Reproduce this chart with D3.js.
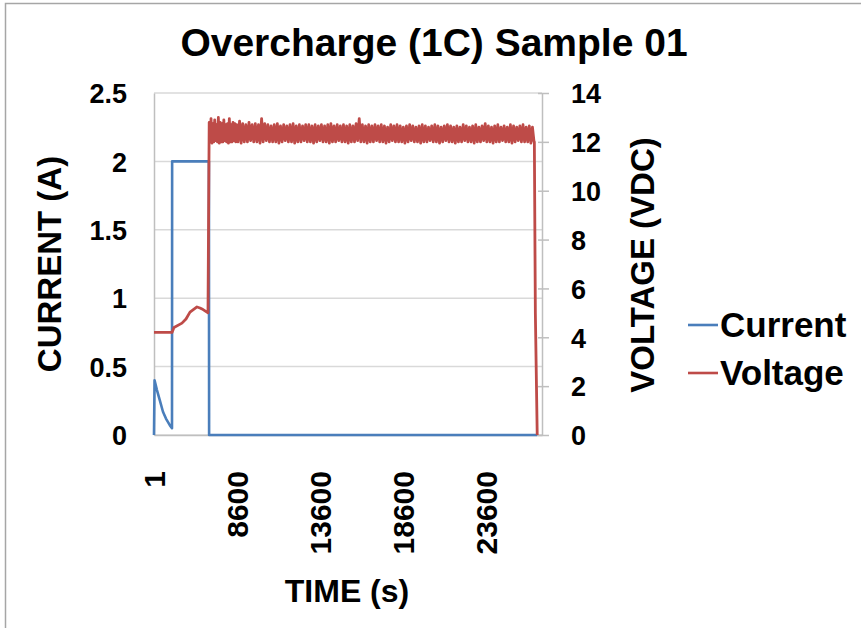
<!DOCTYPE html>
<html><head><meta charset="utf-8">
<script src="https://cdn.jsdelivr.net/npm/d3@7"></script>
<style>
body{margin:0;background:#fff}
svg{display:block}
text{font-family:"Liberation Sans",Arial,sans-serif;font-weight:bold;fill:#000}
</style>
</head><body><svg id="c" width="861" height="628"></svg>
<script>
// ---------------- data ----------------
const chartTitle = "Overcharge (1C) Sample 01";
const xTitle = "TIME (s)";
const yLeftTitle = "CURRENT (A)";
const yRightTitle = "VOLTAGE (VDC)";
const seriesNames = ["Current", "Voltage"];
const xTickValues = [1, 8600, 13600, 18600, 23600];
const currentTicks = [0, 0.5, 1, 1.5, 2, 2.5];
const voltageTicks = [0, 2, 4, 6, 8, 10, 12, 14];

const currentTime   = [1, 60, 300, 620, 930, 1240, 1650, 1866, 1880, 5690, 5710, 26672];
const currentValues = [0, 0.40, 0.33, 0.25, 0.17, 0.12, 0.07, 0.05, 2.0, 2.0, 0, 0];

const voltageStartTime   = [1, 1866, 2073, 2900, 3316, 3730, 4455, 4766, 4973, 5595];
const voltageStartValues = [4.2, 4.2, 4.40, 4.58, 4.75, 5.03, 5.24, 5.20, 5.16, 5.0];

// plateau: logger oscillates between a high and a low reading (pairs)
const plateauStart = 5720, plateauEnd = 26480;
const plateauHigh = [
 12.8,12.95,12.75,12.9,12.7,13.0,12.8,12.75,12.9,12.7,
 12.75,12.95,12.7,12.8,12.75,12.7,12.85,12.75,12.7,12.8,
 12.7,12.75,12.7,12.95,12.75,12.7,12.65,12.7,12.75,12.65,
 12.7,12.65,12.7,12.75,12.65,12.7,12.65,12.7,12.7,12.65,
 12.7,12.65,12.7,12.65,12.7,12.75,12.65,12.7,12.65,12.7,
 12.65,12.7,12.65,12.75,12.95,12.7,12.65,12.7,12.65,12.7,
 12.65,12.7,12.65,12.6,12.7,12.65,12.7,12.65,12.6,12.65,
 12.7,12.65,12.6,12.65,12.7,12.65,12.6,12.65,12.7,12.65,
 12.6,12.65,12.7,12.65,12.6,12.65,12.6,12.7,12.65,12.6,
 12.65,12.7,12.6,12.65,12.75,12.65,12.6,12.65,12.7,12.6,
 12.65,12.6,12.7,12.65,12.6,12.65,12.7,12.6,12.65,12.6
];
const plateauLow = [
 12.0,11.95,12.0,12.05,12.0,11.95,12.0,12.0,12.05,12.0,
 11.95,12.0,12.0,12.05,12.0,12.0,11.95,12.0,12.0,12.05,
 12.0,12.0,11.95,12.0,12.05,12.0,12.0,12.0,11.95,12.0,
 12.05,12.0,12.0,11.95,12.0,12.0,12.05,12.0,12.0,11.95,
 12.0,12.05,12.0,12.0,11.95,12.0,12.0,12.05,12.0,12.0,
 11.95,12.0,12.0,12.05,12.0,12.0,11.95,12.0,12.0,12.05,
 12.0,12.0,11.95,12.0,12.05,12.0,12.0,12.0,11.95,12.0,
 12.05,12.0,12.0,11.95,12.0,12.0,12.05,12.0,12.0,11.95,
 12.0,12.05,12.0,12.0,11.95,12.0,12.0,12.05,12.0,12.0,
 11.95,12.0,12.0,12.05,12.0,12.0,11.95,12.0,12.0,12.05,
 12.0,12.0,11.95,12.0,12.05,12.0,12.0,12.0,11.95,12.0
];
const voltageEndTime   = [26500, 26560, 26672];
const voltageEndValues = [12.0, 5.0, 0];

// ---------------- layout ----------------
const svg = d3.select("#c");
const L = 154, R = 542, T = 93, B = 435;
const W = R - L, H = B - T;
const tMax = 26960;

// outer frame
svg.append("rect").attr("x", 5.5).attr("y", 3.5).attr("width", 900).attr("height", 700)
  .attr("fill", "none").attr("stroke", "#a6a6a6").attr("stroke-width", 1.5);

const g = svg.append("g").attr("transform", `translate(${L},${T})`);

const x = d3.scaleLinear().domain([1, 8600, tMax]).range([0, W * 83 / 388, W]);
const yC = d3.scaleLinear().domain([0, 2.5]).range([H, 0]);
const yV = d3.scaleLinear().domain([0, 14]).range([H, 0]);

// gridlines
g.append("g").selectAll("line").data(currentTicks).join("line")
  .attr("x1", 0).attr("x2", W).attr("y1", d => yC(d)).attr("y2", d => yC(d))
  .attr("stroke", "#d9d9d9").attr("stroke-width", 1.5);

// left axis
const axL = g.append("g").call(d3.axisLeft(yC).tickValues(currentTicks).tickSize(0).tickPadding(27).tickFormat(d => String(d)));
axL.select(".domain").attr("stroke", "#bfbfbf").attr("stroke-width", 1.5);
axL.selectAll("text").style("font-size", "27px").attr("dy", "0.36em");

// right axis
const axR = g.append("g").attr("transform", `translate(${W},0)`)
  .call(d3.axisRight(yV).tickValues(voltageTicks).tickSizeInner(7).tickSizeOuter(0).tickPadding(22).tickFormat(d => String(d)));
axR.select(".domain").attr("stroke", "#bfbfbf").attr("stroke-width", 1.5);
axR.selectAll("line").attr("stroke", "#bfbfbf").attr("stroke-width", 1.5).attr("x1", -4);
axR.selectAll("text").style("font-size", "27px").attr("dy", "0.36em");

// bottom axis
const axB = g.append("g").attr("transform", `translate(0,${H})`)
  .call(d3.axisBottom(x).tickValues(xTickValues).tickSize(0).tickFormat(d => String(d)));
axB.select(".domain").attr("stroke", "#bfbfbf").attr("stroke-width", 1.5);
axB.selectAll("text").style("font-size", "30px")
  .attr("transform", "rotate(-90)").attr("text-anchor", "end")
  .attr("x", -36).attr("y", 0).attr("dy", "0.36em");

// series
const currentData = currentTime.map((t, i) => [t, currentValues[i]]);
const plateauStep = (plateauEnd - plateauStart) / (plateauHigh.length * 2 - 1);
const plateauData = [];
plateauHigh.forEach((v, i) => {
  plateauData.push([plateauStart + (2 * i) * plateauStep, v]);
  plateauData.push([plateauStart + (2 * i + 1) * plateauStep, plateauLow[i]]);
});
const voltageData = voltageStartTime.map((t, i) => [t, voltageStartValues[i]])
  .concat(plateauData)
  .concat(voltageEndTime.map((t, i) => [t, voltageEndValues[i]]));

const lineC = d3.line().x(d => x(d[0])).y(d => yC(d[1]));
const lineV = d3.line().x(d => x(d[0])).y(d => yV(d[1]));

const blue = "#4a7ebb", red = "#be4b48";
g.append("path").datum(currentData).attr("d", lineC)
  .attr("fill", "none").attr("stroke", blue).attr("stroke-width", 2.6).attr("stroke-linejoin", "round");
g.append("path").datum(voltageData).attr("d", lineV)
  .attr("fill", "none").attr("stroke", red).attr("stroke-width", 2.8).attr("stroke-linejoin", "round");

// titles
svg.append("text").attr("x", 434).attr("y", 56).attr("text-anchor", "middle")
  .style("font-size", "39px").text(chartTitle);
svg.append("text").attr("x", 347).attr("y", 602).attr("text-anchor", "middle")
  .style("font-size", "32px").text(xTitle);
svg.append("text").attr("transform", "translate(61,264) rotate(-90)").attr("text-anchor", "middle")
  .style("font-size", "33px").text(yLeftTitle);
svg.append("text").attr("transform", "translate(654,265) rotate(-90)").attr("text-anchor", "middle")
  .style("font-size", "33px").text(yRightTitle);

// legend
const colors = [blue, red];
const lg = svg.append("g").selectAll("g").data(seriesNames).join("g")
  .attr("transform", (d, i) => `translate(688,${325 + i * 48})`);
lg.append("line").attr("x1", 0).attr("x2", 30).attr("y1", 0).attr("y2", 0)
  .attr("stroke", (d, i) => colors[i]).attr("stroke-width", 2.6);
lg.append("text").attr("x", 32).attr("y", 12).style("font-size", "35px").text(d => d);
</script>
</body></html>
